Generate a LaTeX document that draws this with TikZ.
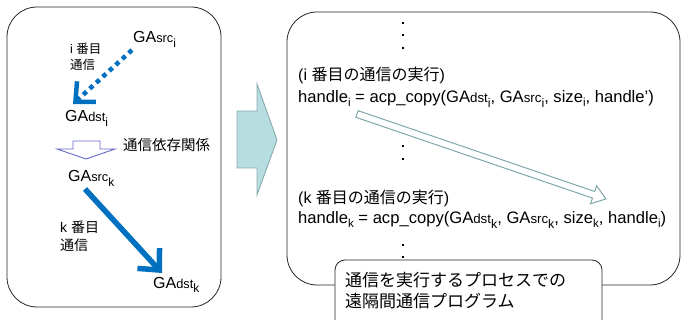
\documentclass[tikz,border=0pt]{standalone}
\usepackage{fontspec}
\setmainfont{Liberation Sans}
\newfontfamily\jp{Noto Sans CJK JP}
\usetikzlibrary{arrows.meta}
\definecolor{oblue}{RGB}{0,112,192}
\definecolor{fatfill}{RGB}{183,221,224}
\definecolor{fatline}{RGB}{133,172,175}
\definecolor{hollowline}{RGB}{128,168,170}
\definecolor{downline}{RGB}{102,102,204}
\newcommand\mysm[1]{\scalebox{0.8}{#1}}
\newcommand\mysb[1]{\raisebox{-0.3em}{\scalebox{0.75}{#1}}}
\newcommand\myGA[2]{GA\mysm{#1}\mysb{#2}}
\newcommand\mysub[1]{\raisebox{-0.22em}{\scalebox{0.7}{#1}}}
\begin{document}
\begin{tikzpicture}[x=1pt,y=-1pt,
  box/.style={draw=black!85, line width=0.8pt, rounded corners=30pt},
  txt/.style={inner sep=0pt, anchor=base west, font=\fontsize{16}{19}\selectfont},
  calltxt/.style={inner sep=0pt, anchor=base west, font=\fontsize{16.6}{19}\selectfont},
  smalltxt/.style={inner sep=0pt, anchor=base west, font=\fontsize{12.5}{15}\selectfont},
  midtxt/.style={inner sep=0pt, anchor=base west, font=\fontsize{14}{17}\selectfont},
  dotsq/.style={fill=black}]
\useasboundingbox (0,0) rectangle (682,320);
% boxes
\draw[box] (7,7) rectangle (221,307);
\draw[box] (287,12) rectangle (680,285);
% left texts
\node[txt] (srci) at (133,43) {\myGA{src}{i}};
\node[txt] (dsti) at (65,122) {\myGA{dst}{i}};
\node[txt] (srck) at (68,182) {\myGA{src}{k}};
\node[txt] (dstk) at (153,288) {\myGA{dst}{k}};
\node[smalltxt] (ilbla) at (70,54) {i {\jp 番目}};
\node[smalltxt] (ilblb) at (70,70) {\jp 通信};
\node[midtxt] (klbla) at (60,233) {k {\jp 番目}};
\node[midtxt] (klblb) at (60,251) {\jp 通信};
\node[midtxt, font=\fontsize{14.5}{17}\selectfont] (dep) at (123,151) {\jp 通信依存関係};
% arrows in left box
\coordinate (di1) at (132,50);
\coordinate (di2) at (73,104);
\draw[oblue, line width=4.5pt, dash pattern=on 4.5pt off 4.3pt,
  -{Straight Barb[length=15pt,width=28pt,line width=4.5pt]}] (di1) -- (di2);
\coordinate (sk1) at (85,189);
\coordinate (sk2) at (162,273);
\draw[oblue, line width=5.5pt, -{Straight Barb[length=16pt,width=30pt,line width=5.5pt]}] (sk1) -- (sk2);
\draw[downline, line width=0.9pt, line join=miter] (73,141) -- (100,141) -- (100,149) -- (115,149) -- (86,159) -- (57,149) -- (73,149) -- cycle;
% fat arrow
\draw[fatline, fill=fatfill, line width=0.9pt] (237,111) -- (257,111) -- (257,84) -- (277,140) -- (257,195) -- (257,168) -- (237,168) -- cycle;
% right texts
\node[txt] (iexec) at (298,81) {(i {\jp 番目の通信の実行})};
\node[calltxt] (icall) at (298,103) {handle\mysub{i} = acp\_copy(\myGA{dst}{i}, \myGA{src}{i}, size\mysub{i}, handle')};
\node[txt] (kexec) at (298,204) {(k {\jp 番目の通信の実行})};
\node[calltxt] (kcall) at (298,224) {handle\mysub{k} = acp\_copy(\myGA{dst}{k}, \myGA{src}{k}, size\mysub{k}, handle\mysub{i})};
\foreach \yy in {22,34,47,132,145,158,244,256} \fill[dotsq] (402,\yy) rectangle ++(2.4,2.4);
% long hollow arrow
\begin{scope}[shift={(357,114)}, rotate=-18.85]
\draw[hollowline, fill=white, line width=1pt, line join=miter] (0,-3.5) -- (250,-3.5) -- (250,-9.5) -- (263,0) -- (250,9.5) -- (250,3.5) -- (0,3.5) -- cycle;
\end{scope}
% bottom label box
\begin{scope}
\clip (0,0) rectangle (682,320);
\draw[draw=black!85, fill=white, line width=0.8pt, rounded corners=10pt] (335,260) rectangle (602,330);
\end{scope}
\node[txt, font=\fontsize{17}{19}\selectfont] (proga) at (345,286) {\jp 通信を実行するプロセスでの};
\node[txt, font=\fontsize{17}{19}\selectfont] (progb) at (345,307) {\jp 遠隔間通信プログラム};
\end{tikzpicture}
\end{document}
